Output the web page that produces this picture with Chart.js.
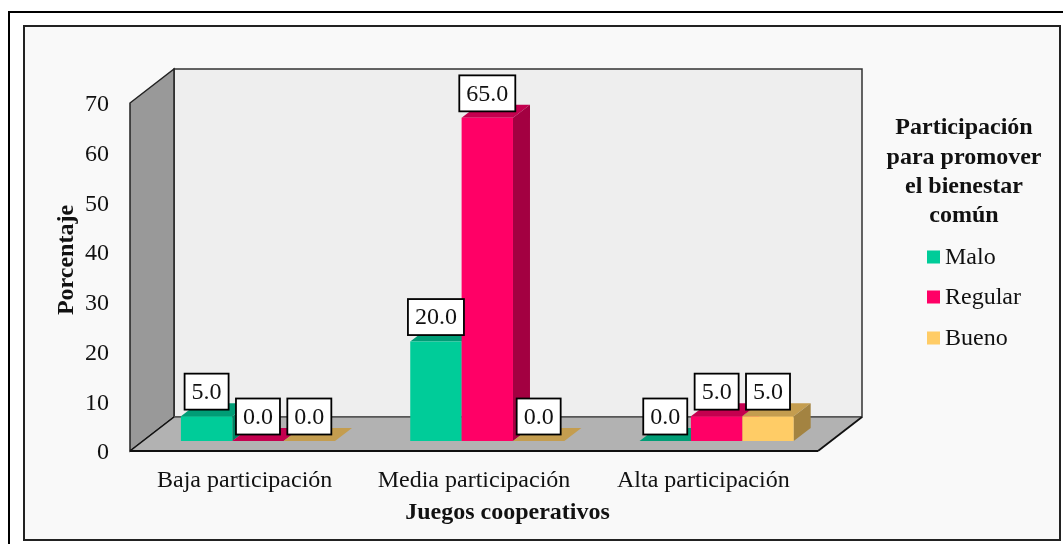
<!DOCTYPE html>
<html lang="es">
<head>
<meta charset="utf-8">
<title>Juegos cooperativos</title>
<script src="https://cdn.jsdelivr.net/npm/chart.js@4/dist/chart.umd.min.js"></script>
<style>
    html, body { margin: 0; padding: 0; background: #fff; overflow: hidden; }
    #page { position: relative; width: 1063px; height: 544px; overflow: hidden; }
    #outer { position: absolute; left: 8px; top: 11px; width: 1100px; height: 600px; border: 2px solid #000; }
    #inner { position: absolute; left: 23px; top: 25px; width: 1034px; height: 512px; background: #f9f9f9; border: 2px solid #222; }
    canvas { position: absolute; left: 0; top: 0; }
</style>
</head>
<body>
<div id="page">
    <div id="outer"></div>
    <div id="inner"></div>
    <canvas id="chart" width="1063" height="544"></canvas>
</div>
<script>
const categories = ['Baja participación', 'Media participación', 'Alta participación'];
const malo = [5.0, 20.0, 0.0];
const regular = [0.0, 65.0, 5.0];
const bueno = [0.0, 0.0, 5.0];
const legendTitle = ['Participación', 'para promover', 'el bienestar', 'común'];

const SERIF = '"Liberation Serif", "Times New Roman", serif';
const TEXT = '#111';
const FONT_SIZE = 24;

// Box depth of the plot and of the bars, in pixels
const DEPTH_X = 44, DEPTH_Y = 34;
const BAR_SHIFT_X = 13.3, BAR_SHIFT_Y = 10;
const BAR_DEPTH_X = 17, BAR_DEPTH_Y = 13;

function polygon(ctx, points, fill, stroke, lineWidth) {
    ctx.beginPath();
    points.forEach((p, i) => i ? ctx.lineTo(p[0], p[1]) : ctx.moveTo(p[0], p[1]));
    ctx.closePath();
    if (fill) {
        ctx.fillStyle = fill;
        ctx.fill();
    }
    if (stroke) {
        ctx.strokeStyle = stroke;
        ctx.lineWidth = lineWidth || 1.5;
        ctx.stroke();
    }
}

function line(ctx, x1, y1, x2, y2, color, width) {
    ctx.beginPath();
    ctx.moveTo(x1, y1);
    ctx.lineTo(x2, y2);
    ctx.strokeStyle = color;
    ctx.lineWidth = width;
    ctx.stroke();
}

// Back wall, side wall and floor, hung on the scale positions
const boxPlugin = {
    id: 'box',
    beforeDatasetsDraw(chart) {
        const { ctx, chartArea: a } = chart;
        const l = a.left, r = a.right, t = a.top, b = a.bottom;
        const dx = DEPTH_X, dy = DEPTH_Y;
        ctx.save();
        polygon(ctx, [[l + dx, t - dy], [r + dx, t - dy], [r + dx, b - dy], [l + dx, b - dy]], '#eeeeee', '#333', 1.5);
        polygon(ctx, [[l, t], [l + dx, t - dy], [l + dx, b - dy], [l, b]], '#999999', '#222', 1.5);
        polygon(ctx, [[l, b], [l + dx, b - dy], [r + dx, b - dy], [r, b]], '#b2b2b2');
        line(ctx, l + dx, b - dy, r + dx, b - dy, '#555', 1.5);
        line(ctx, l, b, l + dx, b - dy, '#111', 1.5);
        line(ctx, r, b, r + dx, b - dy, '#111', 1.8);
        line(ctx, l, b, r, b, '#111', 2);
        ctx.restore();
    }
};

function shade(hex, k) {
    const n = parseInt(hex.slice(1), 16);
    return `rgb(${Math.round((n >> 16) * k)}, ${Math.round(((n >> 8) & 255) * k)}, ${Math.round((n & 255) * k)})`;
}

// Extruded bars: top and side faces come from the bar element, then the element draws its own front
const barsPlugin = {
    id: 'bars3d',
    beforeDatasetDraw() {
        return false;
    },
    afterDatasetsDraw(chart) {
        const { ctx } = chart;
        ctx.save();
        ctx.translate(BAR_SHIFT_X, -BAR_SHIFT_Y);
        chart.data.datasets.forEach((ds, i) => {
            chart.getDatasetMeta(i).data.forEach(bar => {
                const p = bar.getProps(['x', 'y', 'base', 'width'], true);
                const left = p.x - p.width / 2, right = p.x + p.width / 2;
                polygon(ctx, [[left, p.y], [left + BAR_DEPTH_X, p.y - BAR_DEPTH_Y], [right + BAR_DEPTH_X, p.y - BAR_DEPTH_Y], [right, p.y]], shade(ds.backgroundColor, 0.77));
                if (p.base > p.y) {
                    polygon(ctx, [[right, p.y], [right + BAR_DEPTH_X, p.y - BAR_DEPTH_Y], [right + BAR_DEPTH_X, p.base - BAR_DEPTH_Y], [right, p.base]], shade(ds.backgroundColor, 0.64));
                }
                bar.draw(ctx);
            });
        });
        ctx.restore();
    }
};

// Boxed value labels, above every bar
const valueLabelsPlugin = {
    id: 'valueLabels',
    afterDatasetsDraw(chart) {
        const { ctx } = chart;
        ctx.save();
        ctx.font = `${FONT_SIZE}px ${SERIF}`;
        ctx.textAlign = 'center';
        ctx.textBaseline = 'middle';
        chart.data.datasets.forEach((ds, i) => {
            chart.getDatasetMeta(i).data.forEach((bar, j) => {
                const text = ds.data[j].toFixed(1);
                const x = bar.x + BAR_SHIFT_X;
                const y = bar.y - BAR_SHIFT_Y - 24.5;
                const w = ctx.measureText(text).width + 14;
                const h = 36;
                ctx.fillStyle = '#fff';
                ctx.strokeStyle = '#000';
                ctx.lineWidth = 1.8;
                ctx.fillRect(x - w / 2, y - h / 2, w, h);
                ctx.strokeRect(x - w / 2, y - h / 2, w, h);
                ctx.fillStyle = TEXT;
                ctx.fillText(text, x, y + 1);
            });
        });
        ctx.restore();
    }
};

// Axis titles and the legend block
const annotationsPlugin = {
    id: 'annotations',
    afterDraw(chart) {
        const { ctx } = chart;
        ctx.save();
        ctx.fillStyle = TEXT;
        ctx.textBaseline = 'middle';
        ctx.textAlign = 'center';
        ctx.font = `bold ${FONT_SIZE}px ${SERIF}`;

        ctx.fillText('Juegos cooperativos', 507.5, 513);

        ctx.save();
        ctx.translate(67, 260);
        ctx.rotate(-Math.PI / 2);
        ctx.fillText('Porcentaje', 0, 0);
        ctx.restore();

        [128, 158, 187, 216].forEach((y, i) => ctx.fillText(legendTitle[i], 964, y));

        ctx.textAlign = 'left';
        ctx.font = `${FONT_SIZE}px ${SERIF}`;
        [257, 297, 338].forEach((y, i) => {
            const ds = chart.data.datasets[i];
            ctx.fillStyle = ds.backgroundColor;
            ctx.fillRect(927, y - 6.5, 13, 13);
            ctx.fillStyle = TEXT;
            ctx.fillText(ds.label, 945, y + 1);
        });
        ctx.restore();
    }
};

new Chart(document.getElementById('chart'), {
    type: 'bar',
    data: {
        labels: categories,
        datasets: [
            { label: 'Malo', data: malo, backgroundColor: '#00cc99' },
            { label: 'Regular', data: regular, backgroundColor: '#ff0066' },
            { label: 'Bueno', data: bueno, backgroundColor: '#ffcc66' }
        ]
    },
    options: {
        responsive: false,
        animation: false,
        events: [],
        categoryPercentage: 0.672,
        barPercentage: 1,
        layout: { padding: { left: 0, top: 103, right: 245, bottom: 0 } },
        plugins: {
            legend: { display: false },
            title: { display: false },
            tooltip: { enabled: false }
        },
        scales: {
            x: {
                grid: { display: false },
                border: { display: false },
                ticks: {
                    color: TEXT,
                    font: { family: SERIF, size: FONT_SIZE },
                    padding: 7,
                    maxRotation: 0,
                    autoSkip: false
                },
                afterFit: (scale) => { scale.height = 93; }
            },
            y: {
                min: 0,
                max: 70,
                grid: { display: false },
                border: { display: false },
                ticks: {
                    stepSize: 10,
                    color: TEXT,
                    font: { family: SERIF, size: FONT_SIZE },
                    padding: 13,
                    labelOffset: 2
                },
                afterFit: (scale) => { scale.width = 130; }
            }
        }
    },
    plugins: [boxPlugin, barsPlugin, valueLabelsPlugin, annotationsPlugin]
});
</script>
</body>
</html>
